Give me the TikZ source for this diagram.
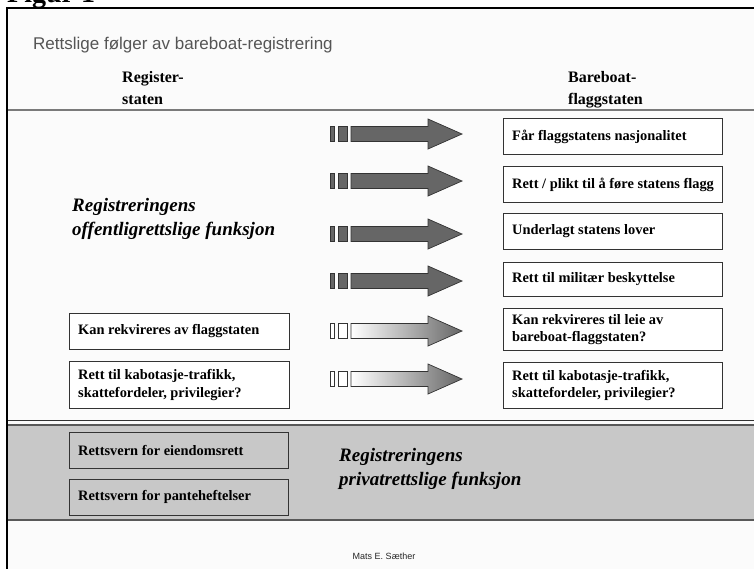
\documentclass[tikz,border=0pt]{standalone}
\usepackage{fontspec}
\setmainfont{Liberation Serif}
\newfontfamily\arialfont{Liberation Sans}
\definecolor{bandgray}{HTML}{C8C8C8}
\definecolor{arrowgray}{HTML}{666666}
\definecolor{linegray}{HTML}{7A7A7A}
\definecolor{titlegray}{HTML}{555555}
\definecolor{paper}{HTML}{FBFBFB}
\begin{document}
\begin{tikzpicture}[x=1pt,y=-1pt,
  rbox/.style={draw=black!80, line width=0.9pt, fill=white, anchor=north west,
    minimum width=219pt, inner sep=0pt},
  cbox/.style={rbox, fill=bandgray},
  btxt/.style={anchor=west, inner sep=0pt, align=left,
    font=\fontsize{14.4}{17.5}\selectfont\bfseries},
  head/.style={font=\fontsize{16}{22}\selectfont\bfseries, align=left, anchor=north west, inner sep=0pt},
  ital/.style={font=\fontsize{19}{23.5}\selectfont\bfseries\itshape, align=left, anchor=west, inner sep=0pt},
  darrow/.style={draw=black!80, line width=0.7pt, fill=arrowgray},
  garrow/.style={draw=black!80, line width=0.7pt, left color=white, right color=arrowgray},
  dbar/.style={draw=black!80, line width=0.7pt, fill=arrowgray},
  wbar/.style={draw=black!80, line width=0.7pt, fill=white}]
\useasboundingbox (0,0) rectangle (754,568);
\fill[white] (0,0) rectangle (754,568);
% Figure label (cut at top, as in the source)
\node[anchor=base west, inner sep=0pt, font=\fontsize{28}{30}\selectfont\bfseries] (figlabel) at (7,2) {Figur 1};
% frame
\fill[paper] (7,8) rectangle (760,575);
\draw[line width=1.5pt] (7,575) -- (7,8) -- (760,8);
% title
\node[anchor=west, inner sep=0pt, font=\arialfont\fontsize{17}{20}\selectfont, text=titlegray] (title) at (33,45) {Rettslige følger av bareboat-registrering};
% column headers
\node[head] (hreg) at (122,71) {Register-\\staten};
\node[head] (hbb) at (568,71) {Bareboat-\\flaggstaten};
% header divider
\draw[linegray, line width=2pt] (7,110) -- (760,110);
% right boxes
\node[rbox, minimum height=36pt] (r1) at (503,118) {};
\node[rbox, minimum height=36pt] (r2) at (503,166) {};
\node[rbox, minimum height=36pt] (r3) at (503,213) {};
\node[rbox, minimum height=34pt] (r4) at (503,262) {};
\node[rbox, minimum height=42pt] (r5) at (503,308) {};
\node[rbox, minimum height=46pt] (r6) at (503,362) {};
\node[btxt] (t1) at ([xshift=9pt]r1.west) {Får flaggstatens nasjonalitet};
\node[btxt] (t2) at ([xshift=9pt]r2.west) {Rett / plikt til å føre statens flagg};
\node[btxt] (t3) at ([xshift=9pt]r3.west) {Underlagt statens lover};
\node[btxt] (t4) at ([xshift=9pt]r4.west) {Rett til militær beskyttelse};
\node[btxt] (t5) at ([xshift=9pt]r5.west) {Kan rekvireres til leie av\\bareboat-flaggstaten?};
\node[btxt] (t6) at ([xshift=9pt]r6.west) {Rett til kabotasje-trafikk,\\skattefordeler, privilegier?};
% left boxes
\node[rbox, minimum width=220pt, minimum height=36pt] (l1) at (69,313) {};
\node[rbox, minimum width=220pt, minimum height=47pt] (l2) at (69,361) {};
\node[btxt] (tl1) at ([xshift=9pt]l1.west) {Kan rekvireres av flaggstaten};
\node[btxt] (tl2) at ([xshift=9pt]l2.west) {Rett til kabotasje-trafikk,\\skattefordeler, privilegier?};
% italic label
\node[ital] (offl) at (72,219) {Registreringens\\offentligrettslige funksjon};
% arrows
\foreach \yc/\st/\bs in {134/darrow/dbar, 181/darrow/dbar, 234/darrow/dbar, 281/darrow/dbar, 331/garrow/wbar, 379/garrow/wbar}{
  \draw[\bs] (330,\yc-7.5) rectangle (334,\yc+7.5);
  \draw[\bs] (338,\yc-7.5) rectangle (347,\yc+7.5);
  \path[\st] (351,\yc-7.5) -- (428,\yc-7.5) -- (428,\yc-15) -- (462,\yc) -- (428,\yc+15) -- (428,\yc+7.5) -- (351,\yc+7.5) -- cycle;
}
% lower separator and gray band
\draw[black!80, line width=1pt] (7,420) -- (760,420);
\fill[bandgray] (7,425) rectangle (760,520);
\draw[black!65, line width=1.5pt] (7,425) -- (760,425);
\draw[black!65, line width=1.5pt] (7,520) -- (760,520);
\node[cbox, minimum height=36pt] (c1) at (69,432) {};
\node[cbox, minimum height=36pt] (c2) at (69,479) {};
\node[btxt] (tc1) at ([xshift=9pt]c1.west) {Rettsvern for eiendomsrett};
\node[btxt] (tc2) at ([xshift=9pt]c2.west) {Rettsvern for panteheftelser};
\node[ital] (privl) at (339,469) {Registreringens\\privatrettslige funksjon};
% footer
\node[anchor=center, inner sep=0pt, font=\arialfont\fontsize{9}{10}\selectfont, text=black!85] (author) at (384,556) {Mats E. Sæther};
\draw[line width=1.5pt] (7,8) -- (7,575);
\end{tikzpicture}
\end{document}
